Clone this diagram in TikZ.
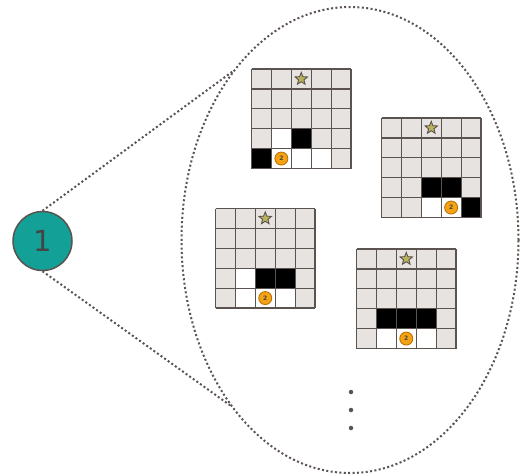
\documentclass[tikz,border=0pt]{standalone}
\usepackage{fontspec}
\setmainfont{DejaVu Sans}
\usetikzlibrary{shapes.geometric}
\definecolor{tealc}{HTML}{13A096}
\definecolor{edgec}{HTML}{5A5350}
\definecolor{cellgray}{HTML}{E6E3E1}
\definecolor{starfill}{HTML}{B9B25A}
\definecolor{coinfill}{HTML}{F5A213}
\definecolor{coinedge}{HTML}{B87408}
\definecolor{numc}{HTML}{444444}
\tikzset{
  dotline/.style={draw=edgec, line width=2pt, dash pattern=on 2pt off 2.4pt},
  gl/.style={draw=edgec, line width=1.2pt},
  starnode/.style={star, star points=5, star point ratio=2.3, minimum size=13pt, inner sep=0pt, fill=starfill, draw=edgec, line width=0.9pt},
  coin/.style={circle, minimum size=13pt, inner sep=0pt, fill=coinfill, draw=coinedge, line width=0.9pt, font=\fontsize{6}{6}\selectfont\bfseries, text=numc},
  bigcirc/.style={circle, minimum size=59pt, inner sep=0pt, fill=tealc, draw=edgec, line width=1.5pt, font=\fontsize{29}{29}\selectfont, text=numc},
  moredot/.style={circle, minimum size=4.5pt, inner sep=0pt, fill=edgec}
}
\newcommand\cs{19.9}
\newcommand\board[7]{%
  \begin{scope}[shift={(#2,#3)}]
    \fill[cellgray] (0,0) rectangle (5*\cs,5*\cs);
    \foreach \c/\r in {#4} \fill[black] (\c*\cs,\r*\cs) rectangle ++(\cs,\cs);
    \foreach \c/\r in {#5} \fill[white] (\c*\cs,\r*\cs) rectangle ++(\cs,\cs);
    \foreach \i in {0,...,5} {
      \draw[gl] (\i*\cs,0) -- (\i*\cs,5*\cs);
      \draw[gl] (0,\i*\cs) -- (5*\cs,\i*\cs);
    }
    \node[starnode] (#1star) at (2.5*\cs,0.5*\cs) {};
    \node[coin] (#1coin) at ({(#6+0.5)*\cs},{(#7+0.5)*\cs}) {2};
  \end{scope}}
\begin{document}
\begin{tikzpicture}[x=1pt,y=-1pt]
\useasboundingbox (0,0) rectangle (520,475);
\node[ellipse, minimum width=337pt, minimum height=466pt, inner sep=0pt, dotline] (ell) at (350,240) {};
\board{ga}{251.5}{69}{2/3,0/4}{1/3,1/4,2/4,3/4}{1}{4}
\board{gb}{381.5}{118}{2/3,3/3,4/4}{2/4,3/4}{3}{4}
\board{gc}{215.5}{208.5}{2/3,3/3}{1/3,1/4,2/4,3/4}{2}{4}
\board{gd}{356.5}{249}{1/3,2/3,3/3}{1/4,2/4,3/4}{2}{4}
\node[moredot] (m1) at (351,392) {};
\node[moredot] (m2) at (351,410) {};
\node[moredot] (m3) at (351,428) {};
\node[bigcirc] (c1) at (42.5,241) {1};
\draw[dotline] (c1.north) -- (ell.125.3);
\draw[dotline] (c1.south) -- (ell.234.7);
\end{tikzpicture}
\end{document}
